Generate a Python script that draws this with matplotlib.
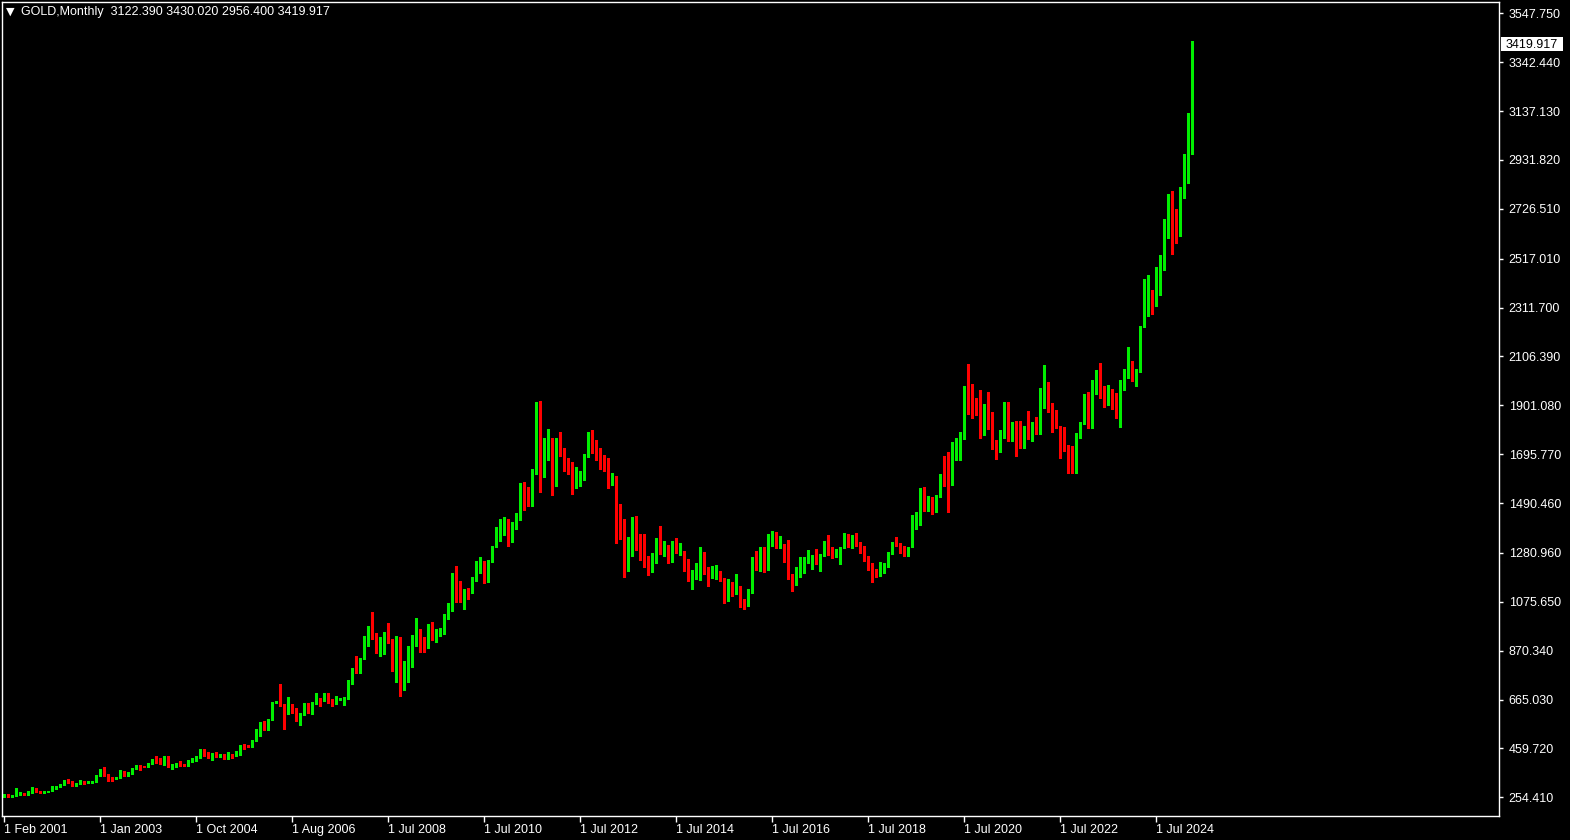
import matplotlib
matplotlib.use('Agg')
import matplotlib.pyplot as plt
from matplotlib.patches import Rectangle

# GOLD monthly bars, Feb 2001 .. Apr 2025 (broker history has a few doubled bars before 2008)
first_open = 265.6
closes = [
    266.7, 257.7, 263.6, 266.5, 270.6, 265.5, 273.0, 293.1, 279.0, 275.5, 279.0,
    282.3, 296.9, 301.4, 308.2, 326.6, 318.5, 304.7, 312.8, 323.7, 316.9, 317.7, 318.0, 347.2,
    367.5, 347.5, 334.9, 333.0, 336.8, 361.4, 346.0, 354.8, 375.6, 388.0, 383.8, 382.0, 398.4, 416.3,
    402.2, 396.9, 427.4, 386.8, 393.3, 395.8, 390.9, 389.5, 408.0, 415.7, 428.9, 452.6, 438.0,
    421.4, 435.2, 428.4, 435.6, 417.3, 434.4, 429.0, 433.3, 473.3, 470.8, 469.5, 495.7, 518.9,
    568.8, 556.0, 582.0, 654.5, 656.0, 643.2, 613.5, 632.5, 623.5, 599.3, 603.8, 646.7, 632.0,
    650.5, 664.2, 661.8, 677.0, 659.1, 650.5, 665.5, 667.0, 672.0, 743.0, 789.5, 783.5, 836.5,
    923.3, 971.5, 933.5, 865.0, 885.8, 930.3, 913.0, 833.0, 884.5, 718.5, 814.5, 865.0,
    927.3, 942.5, 916.5, 883.3, 980.3, 927.3, 955.5, 955.5, 1007.7, 1040.0, 1181.5, 1096.2,
    1081.0, 1118.0, 1113.3, 1179.3, 1212.5, 1244.0, 1169.0, 1246.0, 1307.0, 1359.4, 1384.2, 1420.8,
    1333.8, 1409.3, 1439.0, 1556.0, 1536.5, 1500.2, 1628.3, 1825.0, 1620.0, 1722.0, 1746.4, 1565.8,
    1737.8, 1711.3, 1668.0, 1664.0, 1561.4, 1604.2, 1615.0, 1691.0, 1776.0, 1719.0, 1711.0, 1675.3,
    1662.0, 1578.0, 1596.0, 1472.0, 1393.0, 1234.0, 1313.0, 1395.0, 1327.0, 1323.0, 1250.5, 1201.6,
    1240.0, 1326.0, 1284.0, 1296.0, 1250.0, 1327.0, 1282.5, 1287.0, 1208.0, 1171.5, 1182.5, 1184.0,
    1278.0, 1212.5, 1183.0, 1183.0, 1190.0, 1171.0, 1095.0, 1132.0, 1114.5, 1141.5, 1064.0, 1061.0,
    1117.0, 1237.0, 1232.0, 1293.0, 1214.0, 1321.0, 1351.0, 1309.0, 1316.0, 1276.0, 1173.0, 1150.0,
    1211.0, 1248.0, 1249.0, 1268.0, 1268.5, 1241.5, 1269.0, 1322.0, 1280.0, 1270.5, 1275.0, 1303.0,
    1345.0, 1318.0, 1325.0, 1315.5, 1298.5, 1252.5, 1223.5, 1201.5, 1192.5, 1214.5, 1222.0, 1281.0,
    1321.0, 1313.0, 1292.0, 1284.0, 1305.5, 1409.5, 1413.5, 1520.0, 1472.0, 1513.0, 1463.5, 1517.0,
    1589.0, 1585.0, 1577.0, 1686.0, 1730.0, 1781.0, 1975.0, 1967.0, 1886.0, 1879.0, 1776.0, 1898.0,
    1847.0, 1733.0, 1707.0, 1769.0, 1906.0, 1770.0, 1814.0, 1813.0, 1742.0, 1783.0, 1774.0, 1829.0,
    1797.0, 1909.0, 1937.0, 1896.0, 1837.0, 1807.0, 1766.0, 1711.0, 1660.0, 1633.0, 1768.0, 1824.0,
    1928.0, 1827.0, 1969.0, 1990.0, 1963.0, 1919.0, 1965.0, 1940.0, 1849.0, 1983.0, 2036.0, 2063.0,
    2039.0, 2044.0, 2230.0, 2286.0, 2327.0, 2326.0, 2448.0, 2503.0, 2634.0, 2744.0, 2643.0, 2624.0,
    2798.0, 2858.0, 3122.39, 3419.917,
]
highs = [
    270, 268, 265, 293, 275, 272, 279, 298, 293, 280, 281,
    283, 300, 304, 311, 328, 330, 324, 315, 326, 324, 321, 319, 349,
    372, 382, 353, 340, 338, 371, 367, 360, 377, 391, 389, 385, 400, 417,
    427, 419, 428, 428, 395, 396, 405, 393, 413, 418, 430, 456, 456,
    443, 439, 446, 437, 437, 443, 436, 447, 475, 478, 472, 497, 540,
    571, 573, 585, 655, 660, 730, 645, 676, 645, 630, 607, 650, 650,
    656, 691, 672, 693, 691, 669, 681, 670, 676, 746, 796, 848, 838,
    932, 976, 1033, 945, 929, 948, 988, 918, 934, 929, 829, 888,
    937, 1007, 963, 929, 983, 989, 961, 965, 1024, 1070, 1195, 1227,
    1162, 1129, 1135, 1180, 1249, 1265, 1245, 1253, 1308, 1388, 1424, 1432,
    1424, 1412, 1447, 1576, 1577, 1556, 1632, 1913, 1921, 1764, 1803, 1764,
    1764, 1791, 1720, 1678, 1665, 1641, 1625, 1696, 1787, 1796, 1755, 1723,
    1694, 1681, 1617, 1605, 1487, 1424, 1347, 1433, 1434, 1361, 1361, 1267,
    1280, 1345, 1392, 1331, 1315, 1332, 1345, 1322, 1291, 1255, 1208, 1239,
    1307, 1283, 1223, 1224, 1232, 1205, 1175, 1170, 1157, 1191, 1143, 1088,
    1128, 1263, 1287, 1306, 1304, 1362, 1375, 1367, 1352, 1317, 1337, 1193,
    1220, 1264, 1262, 1295, 1272, 1296, 1275, 1331, 1357, 1306, 1299, 1307,
    1366, 1361, 1356, 1366, 1326, 1309, 1266, 1237, 1214, 1243, 1237, 1284,
    1326, 1346, 1324, 1310, 1306, 1439, 1453, 1555, 1557, 1518, 1516, 1524,
    1611, 1689, 1704, 1747, 1765, 1789, 1983, 2075, 1992, 1933, 1965, 1906,
    1959, 1871, 1757, 1798, 1913, 1916, 1832, 1834, 1834, 1814, 1877, 1831,
    1853, 1974, 2070, 1998, 1910, 1880, 1814, 1808, 1735, 1730, 1786, 1833,
    1949, 1959, 2009, 2048, 2079, 1983, 1987, 1968, 1953, 2009, 2052, 2146,
    2088, 2053, 2236, 2431, 2450, 2387, 2483, 2531, 2685, 2790, 2801, 2726,
    2817, 2956, 3128, 3430.02,
]
lows = [
    255, 255, 255, 262, 265, 263, 264, 271, 277, 272, 272,
    277, 281, 289, 299, 307, 316, 301, 301, 311, 312, 315, 316, 317,
    345, 345, 323, 321, 333, 335, 343, 342, 352, 375, 370, 380, 380, 396,
    399, 393, 390, 381, 372, 381, 386, 387, 384, 401, 409, 421, 426,
    419, 411, 424, 423, 414, 414, 418, 426, 432, 459, 467, 467, 490,
    513, 538, 538, 580, 650, 640, 543, 604, 610, 573, 560, 600, 610,
    603, 648, 637, 660, 651, 640, 646, 662, 643, 668, 730, 775, 777,
    834, 888, 920, 862, 850, 857, 904, 786, 740, 681, 705, 739,
    802, 891, 866, 866, 882, 917, 908, 934, 942, 1004, 1035, 1075,
    1075, 1045, 1088, 1113, 1165, 1197, 1155, 1157, 1243, 1305, 1331, 1357,
    1308, 1326, 1381, 1419, 1462, 1478, 1480, 1611, 1535, 1602, 1670, 1523,
    1563, 1688, 1627, 1614, 1527, 1553, 1564, 1587, 1684, 1702, 1673, 1635,
    1626, 1555, 1565, 1321, 1338, 1180, 1207, 1270, 1292, 1251, 1221, 1187,
    1200, 1238, 1277, 1268, 1240, 1241, 1280, 1273, 1206, 1161, 1131, 1170,
    1167, 1191, 1142, 1175, 1170, 1162, 1072, 1080, 1098, 1107, 1052, 1046,
    1058, 1111, 1208, 1206, 1200, 1208, 1310, 1302, 1302, 1241, 1171, 1122,
    1146, 1180, 1195, 1240, 1214, 1236, 1205, 1267, 1272, 1261, 1264, 1236,
    1302, 1307, 1303, 1310, 1282, 1246, 1211, 1160, 1180, 1183, 1196, 1221,
    1276, 1311, 1281, 1266, 1267, 1305, 1382, 1400, 1459, 1458, 1445, 1454,
    1517, 1563, 1451, 1568, 1670, 1670, 1758, 1863, 1849, 1860, 1764, 1776,
    1802, 1717, 1677, 1705, 1765, 1750, 1751, 1688, 1721, 1722, 1758, 1753,
    1781, 1780, 1890, 1872, 1787, 1805, 1681, 1709, 1615, 1617, 1616, 1765,
    1824, 1805, 1804, 1949, 1932, 1893, 1902, 1885, 1846, 1810, 1965, 2017,
    2002, 1984, 2039, 2228, 2278, 2286, 2319, 2364, 2471, 2604, 2536, 2583,
    2614, 2772, 2833, 2956.40,
]

price_ticks = [254.410, 459.720, 665.030, 870.340, 1075.650, 1280.960, 1490.460,
               1695.770, 1901.080, 2106.390, 2311.700, 2517.010, 2726.510,
               2931.820, 3137.130, 3342.440, 3547.750]
date_labels = ['1 Feb 2001', '1 Jan 2003', '1 Oct 2004', '1 Aug 2006', '1 Jul 2008',
               '1 Jul 2010', '1 Jul 2012', '1 Jul 2014', '1 Jul 2016', '1 Jul 2018',
               '1 Jul 2020', '1 Jul 2022', '1 Jul 2024']
label_step = 24  # one date label every 24 bars

bull = '#00ee00'
bear = '#ff0000'
fg = 'white'

plt.rcParams['font.family'] = ['Liberation Sans', 'DejaVu Sans']

W, H = 1570, 840
fig = plt.figure(figsize=(W / 100, H / 100), dpi=100, facecolor='black')
ax = fig.add_axes([2 / W, (H - 816) / H, 1497 / W, 814 / H], facecolor='black')

opens = [first_open] + closes[:-1]
xs = list(range(len(closes)))
cols = [bull if c >= o else bear for o, c in zip(opens, closes)]
bottoms = [min(o, c) for o, c in zip(opens, closes)]
heights = [max(abs(c - o), 4.0) for o, c in zip(opens, closes)]

ax.vlines(xs, lows, highs, colors=cols, linewidth=0.75, antialiased=False)
ax.bar(xs, heights, bottom=bottoms, width=0.75, color=cols, linewidth=0, antialiased=False)

ax.set_xlim(-0.5, 373.75)
ax.set_ylim(175.9, 3595.2)

for s in ax.spines.values():
    s.set_color(fg)
    s.set_linewidth(1)

ax.yaxis.tick_right()
ax.set_yticks(price_ticks)
ax.set_yticklabels(['%.3f' % p for p in price_ticks])
ax.tick_params(axis='y', colors=fg, length=3, width=1, pad=4, labelsize=9)

ax.set_xticks([i * label_step for i in range(len(date_labels))])
ax.set_xticklabels(date_labels)
ax.tick_params(axis='x', colors=fg, length=4, width=1, pad=2, labelsize=9)
for lbl in ax.get_xticklabels():
    lbl.set_horizontalalignment('left')

# current price box on the right scale (pixel placement from the data value)
y_px = ax.transData.transform((0, closes[-1]))[1]
fig.add_artist(Rectangle((1501 / W, (y_px - 7) / H), 62 / W, 14 / H,
                         transform=fig.transFigure, facecolor='white', edgecolor='none'))
fig.text(1506 / W, y_px / H, '%.3f' % closes[-1], color='black', fontsize=9,
         ha='left', va='center_baseline')

# header with last bar OHLC
fig.text(10 / W, 1 - 12 / H, '\u25bc', color=fg, fontsize=8, va='center', ha='center',
         family=['DejaVu Sans'])
fig.text(21 / W, 1 - 12 / H, 'GOLD,Monthly  %.3f %.3f %.3f %.3f'
         % (opens[-1], highs[-1], lows[-1], closes[-1]),
         color=fg, fontsize=9, va='center', ha='left')

fig.savefig('out.png', dpi=100, facecolor='black')
